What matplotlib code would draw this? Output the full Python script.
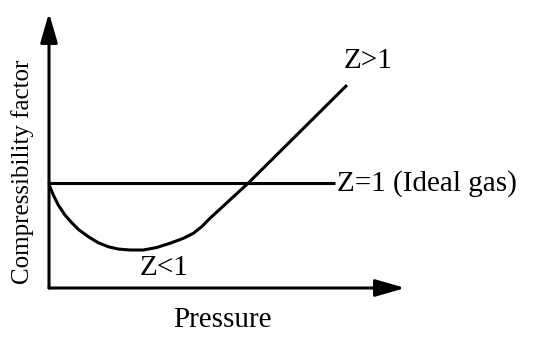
import matplotlib
matplotlib.use("Agg")
import matplotlib.pyplot as plt

# schematic compressibility curve (pressure in arbitrary units, Z dimensionless)
pressure = [0.0, 0.028, 0.121, 0.261, 0.449, 0.638, 0.823, 1.104, 1.385, 1.666, 1.947,
            2.275, 2.649, 3.025, 3.399, 3.772, 4.053, 4.289, 4.522, 5.598, 8.37]
z_real = [1.0, 0.962, 0.886, 0.79, 0.695, 0.622, 0.559, 0.489, 0.431, 0.393, 0.371,
          0.362, 0.362, 0.386, 0.426, 0.473, 0.521, 0.584, 0.664, 1.0, 1.933]
ideal_p = [0.0, 8.03]
ideal_z = [1.0, 1.0]

plt.rcParams["font.family"] = ["Liberation Serif", "DejaVu Serif"]

fig = plt.figure(figsize=(5.33, 3.45), dpi=100)
ax = fig.add_axes([49 / 533, 57 / 345, 356 / 533, 275 / 345])
ax.set_xlim(0, 10)
ax.set_ylim(0, 2.62)
ax.axis("off")

lw = 2.2
# axes with arrow heads
arrow = dict(arrowstyle="-|>,head_length=1.2,head_width=0.35", mutation_scale=15,
             lw=lw, color="black", shrinkA=0, shrinkB=0)
ax.annotate("", xy=(0, 2.62), xytext=(0, 0), xycoords="data", arrowprops=arrow,
            annotation_clip=False)
ax.annotate("", xy=(10, 0), xytext=(0, 0), xycoords="data", arrowprops=arrow,
            annotation_clip=False)

ax.plot(ideal_p, ideal_z, color="black", lw=lw, solid_capstyle="butt", clip_on=False)
ax.plot(pressure, z_real, color="black", lw=lw, solid_capstyle="butt",
        solid_joinstyle="round", clip_on=False)

ax.text(8.1, 1.0, "Z=1 (Ideal gas)", fontsize=21, ha="left", va="center")
ax.text(8.96, 2.16, "Z>1", fontsize=21, ha="center", va="center")
ax.text(3.23, 0.19, "Z<1", fontsize=21, ha="center", va="center")

fig.text(0.418, 0.072, "Pressure", fontsize=21, ha="center", va="center")
fig.text(0.042, 0.503, "Compressibility factor", fontsize=18, ha="center", va="center",
         rotation=90)

fig.savefig("out.png", dpi=100)
